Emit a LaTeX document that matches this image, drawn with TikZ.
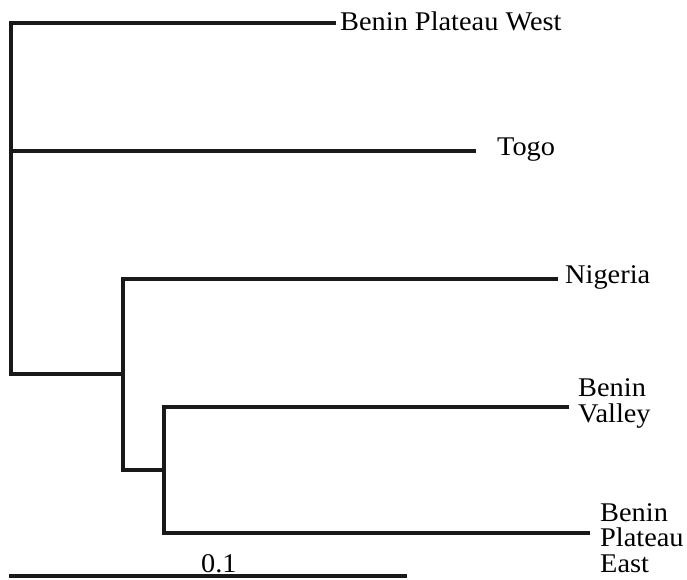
\documentclass[tikz,border=0pt]{standalone}
\usepackage{fontspec}
\setmainfont{Liberation Serif}
\newfontfamily\labfont[FakeStretch=1.05]{Liberation Serif}
\begin{document}
\begin{tikzpicture}[x=1pt,y=-1pt,
  br/.style={line width=3.2pt,line cap=rect,black!90},
  lab/.style={anchor=base west,inner sep=0pt,font=\labfont\fontsize{27}{25.2}\selectfont,align=left}]
\useasboundingbox (0,0) rectangle (687,580);
% junctions
\coordinate (r1) at (11,23);
\coordinate (r2) at (11,151);
\coordinate (r3) at (11,374);
\coordinate (a1) at (123,279);
\coordinate (a2) at (123,374);
\coordinate (a3) at (123,470);
\coordinate (b1) at (164,407);
\coordinate (b2) at (164,470);
\coordinate (b3) at (164,533);
% tips
\coordinate (t1) at (334,23);
\coordinate (t2) at (474,151);
\coordinate (t3) at (556,279);
\coordinate (t4) at (567,407);
\coordinate (t5) at (588,533);
% scale bar
\coordinate (s1) at (11,576);
\coordinate (s2) at (405,576);
% labels
\node[lab] (L1) at (340,31) {Benin Plateau West};
\node[lab] (L2) at (497,156) {Togo};
\node[lab] (L3) at (565,283) {Nigeria};
\node[lab] (L4) at (578,422) {Benin\\Valley};
\node[lab] (L5) at (600,572) {Benin\\Plateau\\East};
\node[lab] (L6) at (201,572) {0.1};
% tree
\draw[br] (r1) -- (r3);
\draw[br] (r1) -- (t1);
\draw[br] (r2) -- (t2);
\draw[br] (r3) -- (a2);
\draw[br] (a1) -- (a3);
\draw[br] (a1) -- (t3);
\draw[br] (a3) -- (b2);
\draw[br] (b1) -- (b3);
\draw[br] (b1) -- (t4);
\draw[br] (b3) -- (t5);
\draw[br] (s1) -- (s2);
\end{tikzpicture}
\end{document}
